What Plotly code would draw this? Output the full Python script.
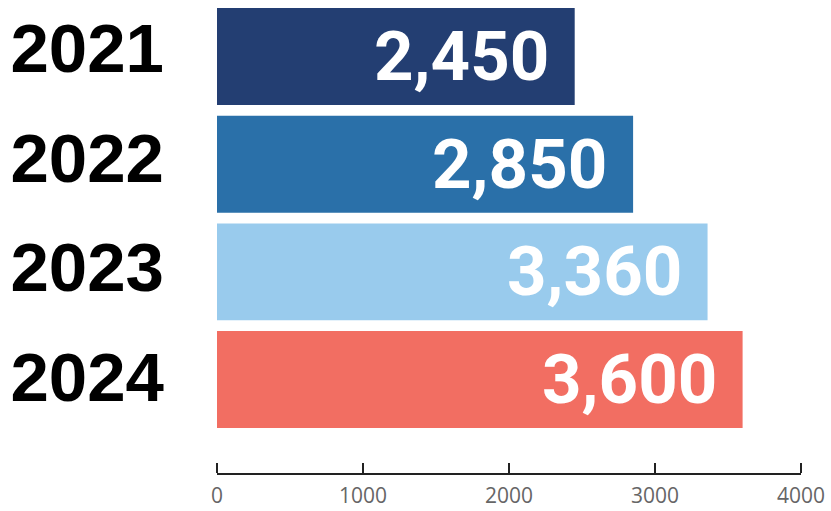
import plotly.graph_objects as go

years = ["2021", "2022", "2023", "2024"]
visitors = [2450, 2850, 3360, 3600]
bar_colors = ["#233e72", "#2a70a9", "#99cbed", "#f26e62"]
x_ticks = [0, 1000, 2000, 3000, 4000]

positions = list(range(len(years)))

fig = go.Figure()

fig.add_trace(
    go.Bar(
        x=visitors,
        y=positions,
        orientation="h",
        marker=dict(color=bar_colors, line=dict(width=0)),
        width=0.9,
        hoverinfo="skip",
    )
)

# invisible carrier trace for the overlay axes (year labels, upward tick marks)
fig.add_trace(
    go.Scatter(
        x=[0] * len(years),
        y=positions,
        xaxis="x2",
        yaxis="y2",
        mode="markers",
        marker=dict(opacity=0),
        hoverinfo="skip",
        showlegend=False,
    )
)

# value labels, right-aligned inside each bar
for pos, val in zip(positions, visitors):
    fig.add_annotation(
        x=val, y=pos, xref="x", yref="y",
        text=f"{val:,}",
        showarrow=False,
        xanchor="right", yanchor="middle",
        xshift=-24,
        font=dict(family="Roboto", size=69, color="white", weight="bold"),
    )

fig.update_layout(
    width=831, height=511,
    margin=dict(l=217, r=30, t=0, b=38),
    paper_bgcolor="white",
    plot_bgcolor="white",
    showlegend=False,
    xaxis=dict(
        range=[0, 4000],
        tickvals=x_ticks,
        ticktext=[str(t) for t in x_ticks],
        ticks="",
        showline=True,
        linecolor="#222222",
        linewidth=2,
        showgrid=False,
        zeroline=False,
        automargin=False,
        ticklabelstandoff=3,
        tickfont=dict(family="Open Sans", size=21, color="#666666"),
        fixedrange=True,
    ),
    # same scale, sitting on the bottom edge with ticks pointing up
    xaxis2=dict(
        overlaying="x",
        side="top",
        anchor="free",
        position=0,
        range=[0, 4000],
        tickvals=x_ticks,
        ticks="outside",
        ticklen=10,
        tickwidth=2,
        tickcolor="#222222",
        showticklabels=False,
        showline=False,
        showgrid=False,
        zeroline=False,
        automargin=False,
        fixedrange=True,
    ),
    yaxis=dict(
        range=[3.868, -0.525],
        showticklabels=False,
        ticks="",
        showline=False,
        showgrid=False,
        zeroline=False,
        automargin=False,
        fixedrange=True,
    ),
    yaxis2=dict(
        overlaying="y",
        side="left",
        range=[3.882, -0.4374],
        tickvals=positions,
        ticktext=years,
        ticks="",
        showline=False,
        showgrid=False,
        zeroline=False,
        automargin=False,
        ticklabelstandoff=52,
        tickfont=dict(family="Liberation Sans", size=69, color="black", weight="bold"),
        fixedrange=True,
    ),
)

fig.write_html("out.html")
